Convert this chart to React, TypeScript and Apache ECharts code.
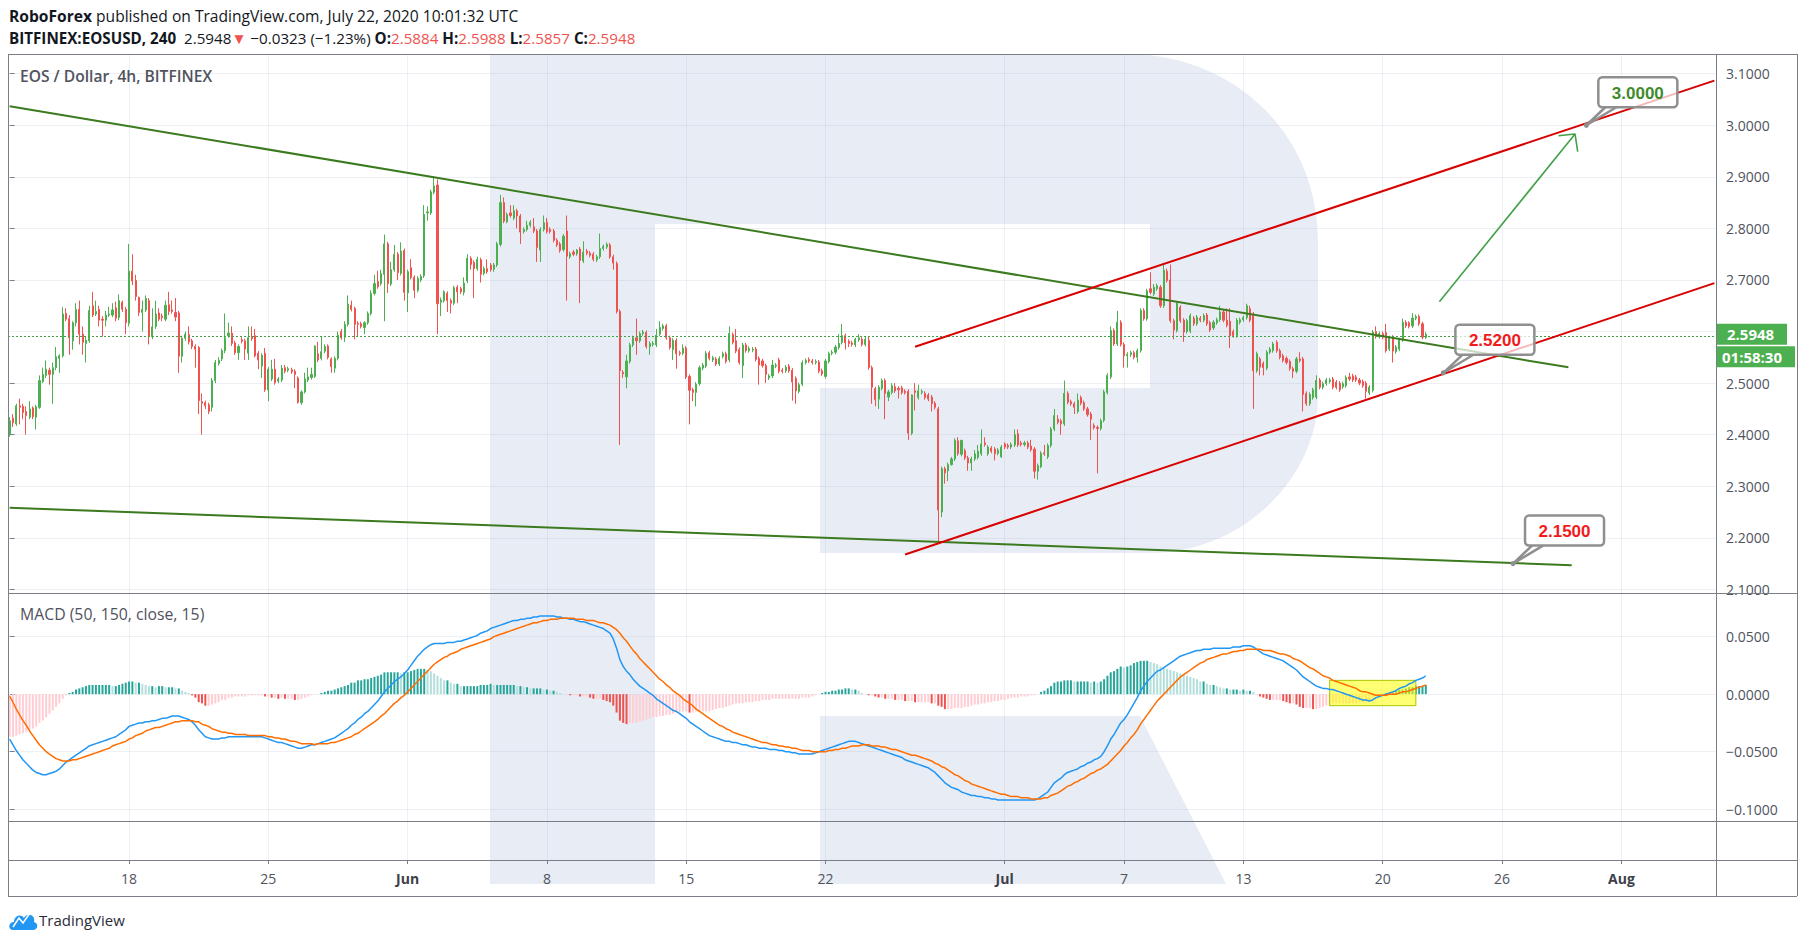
import React, { useEffect, useRef } from "react";
import * as echarts from "echarts";

// ---------------- data ----------------
const firstCandleUTC = Date.UTC(2020, 4, 12, 0, 0); // first 4h slot
const slotCount = 515; // 4h slots shown on the time axis (incl. empty future area)

// [open, close, low, high] per 4h candle
const candles: number[][] = [
  [2.400,2.427,2.396,2.434],[2.432,2.423,2.415,2.440],[2.421,2.456,2.417,2.460],[2.456,2.453,2.420,2.470],
  [2.455,2.443,2.430,2.460],[2.445,2.437,2.400,2.455],[2.434,2.450,2.430,2.465],[2.452,2.435,2.430,2.455],
  [2.434,2.454,2.410,2.458],[2.453,2.505,2.450,2.515],[2.503,2.517,2.500,2.530],[2.515,2.527,2.510,2.544],
  [2.525,2.517,2.497,2.530],[2.517,2.530,2.460,2.540],[2.530,2.551,2.525,2.570],[2.548,2.553,2.520,2.556],
  [2.553,2.634,2.550,2.647],[2.635,2.624,2.620,2.645],[2.625,2.588,2.555,2.632],[2.582,2.617,2.565,2.620],
  [2.617,2.643,2.610,2.655],[2.643,2.595,2.575,2.660],[2.595,2.579,2.555,2.610],[2.577,2.583,2.540,2.590],
  [2.582,2.641,2.578,2.650],[2.650,2.632,2.628,2.677],[2.634,2.639,2.630,2.660],[2.643,2.622,2.610,2.650],
  [2.624,2.622,2.590,2.630],[2.622,2.632,2.610,2.640],[2.632,2.634,2.628,2.648],[2.632,2.642,2.628,2.655],
  [2.646,2.626,2.620,2.658],[2.627,2.660,2.622,2.672],[2.657,2.643,2.638,2.660],[2.643,2.617,2.595,2.648],
  [2.616,2.717,2.610,2.770],[2.717,2.698,2.690,2.750],[2.699,2.668,2.660,2.710],[2.666,2.637,2.630,2.668],
  [2.637,2.643,2.600,2.660],[2.642,2.664,2.638,2.670],[2.660,2.590,2.575,2.665],[2.590,2.609,2.585,2.645],
  [2.610,2.634,2.605,2.660],[2.636,2.624,2.620,2.645],[2.630,2.627,2.620,2.635],[2.624,2.651,2.620,2.660],
  [2.652,2.639,2.632,2.677],[2.642,2.639,2.635,2.660],[2.637,2.628,2.620,2.665],[2.636,2.552,2.520,2.640],
  [2.552,2.587,2.540,2.592],[2.587,2.595,2.582,2.600],[2.594,2.580,2.575,2.610],[2.582,2.571,2.566,2.586],
  [2.571,2.566,2.530,2.575],[2.569,2.466,2.440,2.572],[2.464,2.461,2.400,2.480],[2.462,2.456,2.450,2.466],
  [2.458,2.445,2.440,2.462],[2.453,2.505,2.445,2.510],[2.505,2.540,2.500,2.545],[2.538,2.544,2.534,2.550],
  [2.547,2.563,2.543,2.567],[2.563,2.588,2.558,2.635],[2.592,2.597,2.588,2.617],[2.597,2.577,2.572,2.610],
  [2.578,2.559,2.555,2.582],[2.559,2.571,2.545,2.575],[2.584,2.581,2.577,2.589],[2.582,2.566,2.545,2.586],
  [2.558,2.588,2.545,2.610],[2.590,2.586,2.582,2.610],[2.592,2.553,2.550,2.605],[2.558,2.545,2.527,2.562],
  [2.533,2.554,2.510,2.558],[2.558,2.487,2.483,2.568],[2.487,2.527,2.465,2.531],[2.508,2.527,2.504,2.545],
  [2.527,2.501,2.497,2.547],[2.504,2.508,2.500,2.512],[2.506,2.529,2.502,2.535],[2.530,2.523,2.519,2.535],
  [2.525,2.528,2.521,2.532],[2.526,2.522,2.518,2.530],[2.523,2.517,2.490,2.527],[2.510,2.463,2.460,2.513],
  [2.462,2.483,2.458,2.486],[2.483,2.508,2.480,2.520],[2.506,2.512,2.502,2.530],[2.511,2.517,2.507,2.530],
  [2.513,2.572,2.510,2.573],[2.557,2.545,2.541,2.580],[2.548,2.561,2.544,2.590],[2.562,2.571,2.558,2.575],
  [2.572,2.550,2.546,2.575],[2.547,2.532,2.520,2.550],[2.529,2.548,2.520,2.552],[2.548,2.593,2.544,2.600],
  [2.600,2.588,2.584,2.605],[2.589,2.614,2.580,2.620],[2.614,2.653,2.610,2.670],[2.651,2.643,2.639,2.660],
  [2.645,2.614,2.585,2.648],[2.616,2.614,2.590,2.620],[2.615,2.610,2.606,2.619],[2.608,2.617,2.595,2.620],
  [2.617,2.635,2.613,2.639],[2.635,2.674,2.631,2.680],[2.674,2.693,2.670,2.710],[2.697,2.687,2.683,2.718],
  [2.693,2.712,2.689,2.720],[2.711,2.770,2.620,2.788],[2.770,2.693,2.675,2.774],[2.692,2.720,2.688,2.735],
  [2.720,2.750,2.716,2.768],[2.750,2.714,2.700,2.754],[2.713,2.756,2.709,2.773],[2.757,2.676,2.660,2.761],
  [2.675,2.716,2.638,2.720],[2.724,2.705,2.701,2.740],[2.705,2.680,2.665,2.709],[2.680,2.703,2.676,2.707],
  [2.700,2.707,2.696,2.711],[2.708,2.827,2.704,2.845],[2.830,2.832,2.815,2.843],[2.830,2.871,2.826,2.875],
  [2.870,2.882,2.866,2.900],[2.884,2.654,2.595,2.895],[2.657,2.661,2.630,2.666],[2.660,2.677,2.656,2.680],
  [2.674,2.660,2.638,2.678],[2.660,2.655,2.635,2.664],[2.655,2.685,2.651,2.689],[2.686,2.677,2.655,2.690],
  [2.683,2.677,2.673,2.687],[2.676,2.694,2.670,2.705],[2.698,2.742,2.694,2.750],[2.742,2.730,2.720,2.746],
  [2.734,2.722,2.665,2.738],[2.722,2.740,2.718,2.745],[2.739,2.711,2.695,2.743],[2.713,2.722,2.709,2.726],
  [2.722,2.716,2.712,2.740],[2.729,2.720,2.716,2.733],[2.721,2.729,2.716,2.733],[2.729,2.770,2.725,2.774],
  [2.769,2.850,2.765,2.865],[2.850,2.814,2.810,2.860],[2.813,2.827,2.810,2.831],[2.830,2.825,2.821,2.845],
  [2.820,2.834,2.816,2.845],[2.834,2.824,2.800,2.838],[2.824,2.793,2.770,2.828],[2.794,2.798,2.790,2.802],
  [2.798,2.806,2.794,2.815],[2.806,2.812,2.802,2.816],[2.803,2.795,2.791,2.820],[2.795,2.763,2.735,2.799],
  [2.758,2.798,2.735,2.802],[2.798,2.811,2.794,2.825],[2.812,2.794,2.790,2.820],[2.798,2.794,2.790,2.802],
  [2.795,2.777,2.773,2.799],[2.777,2.768,2.764,2.781],[2.770,2.757,2.753,2.774],[2.759,2.785,2.755,2.789],
  [2.795,2.746,2.660,2.825],[2.745,2.751,2.741,2.755],[2.754,2.750,2.746,2.758],[2.751,2.758,2.747,2.760],
  [2.760,2.738,2.655,2.764],[2.737,2.754,2.733,2.775],[2.756,2.752,2.748,2.760],[2.752,2.748,2.744,2.756],
  [2.750,2.740,2.736,2.754],[2.739,2.745,2.735,2.749],[2.745,2.761,2.741,2.790],[2.761,2.765,2.757,2.769],
  [2.764,2.769,2.760,2.773],[2.768,2.745,2.741,2.772],[2.745,2.733,2.720,2.749],[2.732,2.639,2.635,2.736],
  [2.639,2.524,2.380,2.643],[2.521,2.518,2.510,2.525],[2.512,2.543,2.490,2.555],[2.542,2.574,2.538,2.578],
  [2.574,2.588,2.570,2.592],[2.588,2.582,2.555,2.625],[2.582,2.596,2.578,2.600],[2.596,2.599,2.592,2.603],
  [2.598,2.571,2.567,2.602],[2.571,2.577,2.555,2.581],[2.575,2.577,2.571,2.581],[2.574,2.593,2.570,2.605],
  [2.595,2.608,2.591,2.620],[2.606,2.611,2.602,2.615],[2.611,2.588,2.584,2.615],[2.588,2.569,2.565,2.592],
  [2.565,2.583,2.545,2.587],[2.583,2.557,2.528,2.587],[2.559,2.557,2.553,2.563],[2.558,2.568,2.554,2.575],
  [2.568,2.512,2.508,2.572],[2.513,2.486,2.420,2.517],[2.487,2.482,2.465,2.491],[2.482,2.498,2.455,2.502],
  [2.499,2.530,2.495,2.534],[2.529,2.535,2.525,2.539],[2.533,2.558,2.529,2.562],[2.559,2.548,2.544,2.563],
  [2.545,2.549,2.541,2.553],[2.547,2.537,2.533,2.551],[2.537,2.548,2.533,2.552],[2.552,2.557,2.548,2.561],
  [2.557,2.542,2.538,2.561],[2.545,2.596,2.541,2.610],[2.594,2.579,2.575,2.598],[2.582,2.562,2.558,2.605],
  [2.565,2.540,2.536,2.569],[2.534,2.574,2.510,2.578],[2.574,2.563,2.559,2.578],[2.563,2.567,2.559,2.571],
  [2.564,2.566,2.560,2.570],[2.566,2.546,2.542,2.570],[2.548,2.535,2.497,2.552],[2.543,2.534,2.530,2.547],
  [2.534,2.517,2.500,2.538],[2.510,2.514,2.506,2.518],[2.514,2.535,2.510,2.545],[2.533,2.535,2.529,2.539],
  [2.545,2.523,2.519,2.549],[2.525,2.523,2.519,2.529],[2.524,2.531,2.520,2.535],[2.533,2.524,2.520,2.537],
  [2.525,2.502,2.466,2.529],[2.509,2.485,2.460,2.513],[2.484,2.497,2.480,2.501],[2.498,2.540,2.494,2.544],
  [2.540,2.544,2.536,2.548],[2.546,2.543,2.539,2.550],[2.543,2.540,2.536,2.547],[2.540,2.542,2.536,2.546],
  [2.541,2.523,2.519,2.545],[2.524,2.518,2.514,2.528],[2.513,2.543,2.509,2.547],[2.542,2.557,2.538,2.561],
  [2.558,2.560,2.554,2.564],[2.560,2.570,2.556,2.574],[2.569,2.577,2.565,2.595],[2.579,2.592,2.575,2.615],
  [2.592,2.578,2.565,2.596],[2.581,2.577,2.570,2.585],[2.578,2.575,2.571,2.582],[2.574,2.585,2.570,2.588],
  [2.584,2.588,2.580,2.595],[2.585,2.575,2.571,2.589],[2.575,2.585,2.571,2.590],[2.583,2.530,2.526,2.590],
  [2.530,2.492,2.460,2.534],[2.489,2.468,2.455,2.493],[2.469,2.492,2.450,2.496],[2.490,2.505,2.486,2.509],
  [2.505,2.480,2.430,2.509],[2.473,2.483,2.465,2.487],[2.482,2.495,2.478,2.500],[2.493,2.485,2.481,2.500],
  [2.490,2.487,2.470,2.494],[2.491,2.482,2.478,2.495],[2.484,2.482,2.478,2.488],[2.484,2.403,2.390,2.488],
  [2.403,2.477,2.399,2.478],[2.485,2.482,2.447,2.500],[2.472,2.485,2.468,2.497],[2.482,2.484,2.478,2.488],
  [2.480,2.472,2.468,2.484],[2.477,2.469,2.465,2.481],[2.473,2.460,2.445,2.477],[2.461,2.453,2.449,2.465],
  [2.450,2.254,2.190,2.454],[2.250,2.334,2.240,2.338],[2.334,2.326,2.305,2.338],[2.330,2.342,2.310,2.346],
  [2.342,2.353,2.340,2.357],[2.353,2.389,2.349,2.393],[2.388,2.363,2.359,2.395],[2.362,2.389,2.358,2.390],
  [2.369,2.355,2.351,2.373],[2.355,2.345,2.330,2.359],[2.345,2.353,2.330,2.357],[2.353,2.363,2.349,2.370],
  [2.356,2.368,2.352,2.380],[2.363,2.382,2.359,2.410],[2.384,2.381,2.377,2.395],[2.363,2.376,2.359,2.380],
  [2.374,2.368,2.364,2.378],[2.372,2.363,2.350,2.376],[2.364,2.370,2.360,2.374],[2.357,2.376,2.355,2.380],
  [2.382,2.376,2.372,2.385],[2.379,2.376,2.372,2.383],[2.376,2.381,2.372,2.385],[2.380,2.400,2.376,2.410],
  [2.402,2.380,2.376,2.410],[2.384,2.381,2.377,2.388],[2.381,2.384,2.377,2.388],[2.384,2.376,2.372,2.388],
  [2.378,2.371,2.367,2.390],[2.372,2.329,2.315,2.376],[2.329,2.340,2.313,2.344],[2.338,2.364,2.335,2.368],
  [2.365,2.363,2.359,2.380],[2.357,2.379,2.353,2.383],[2.379,2.411,2.375,2.415],[2.411,2.437,2.407,2.450],
  [2.430,2.424,2.420,2.438],[2.427,2.421,2.400,2.431],[2.421,2.480,2.417,2.505],[2.480,2.463,2.459,2.484],
  [2.464,2.460,2.456,2.468],[2.460,2.453,2.440,2.464],[2.445,2.467,2.441,2.480],[2.472,2.461,2.457,2.476],
  [2.462,2.450,2.446,2.466],[2.450,2.439,2.435,2.454],[2.440,2.430,2.390,2.444],[2.418,2.414,2.410,2.422],
  [2.414,2.412,2.325,2.418],[2.412,2.427,2.408,2.431],[2.428,2.483,2.424,2.487],[2.482,2.515,2.478,2.519],
  [2.512,2.602,2.508,2.610],[2.602,2.576,2.572,2.606],[2.576,2.618,2.572,2.640],[2.618,2.575,2.571,2.622],
  [2.575,2.553,2.530,2.579],[2.553,2.556,2.530,2.560],[2.555,2.559,2.551,2.563],[2.559,2.550,2.546,2.563],
  [2.550,2.563,2.540,2.567],[2.563,2.641,2.559,2.645],[2.641,2.625,2.621,2.645],[2.625,2.679,2.621,2.683],
  [2.683,2.676,2.672,2.715],[2.673,2.686,2.669,2.692],[2.683,2.689,2.679,2.693],[2.686,2.650,2.646,2.690],
  [2.650,2.719,2.646,2.730],[2.717,2.699,2.695,2.722],[2.700,2.621,2.617,2.730],[2.621,2.603,2.585,2.625],
  [2.602,2.655,2.598,2.659],[2.647,2.621,2.617,2.651],[2.622,2.599,2.580,2.626],[2.600,2.621,2.596,2.625],
  [2.601,2.631,2.597,2.635],[2.626,2.615,2.611,2.630],[2.615,2.628,2.611,2.632],[2.626,2.622,2.618,2.630],
  [2.622,2.631,2.618,2.635],[2.632,2.615,2.611,2.636],[2.617,2.603,2.599,2.621],[2.607,2.618,2.603,2.622],
  [2.617,2.623,2.613,2.627],[2.623,2.638,2.619,2.650],[2.638,2.622,2.618,2.642],[2.622,2.612,2.608,2.645],
  [2.620,2.592,2.568,2.645],[2.600,2.592,2.588,2.604],[2.592,2.622,2.588,2.626],[2.618,2.623,2.614,2.627],
  [2.623,2.627,2.619,2.631],[2.627,2.650,2.623,2.654],[2.644,2.622,2.618,2.650],[2.634,2.524,2.450,2.638],
  [2.524,2.557,2.520,2.561],[2.547,2.531,2.515,2.551],[2.538,2.530,2.515,2.542],[2.529,2.560,2.525,2.564],
  [2.560,2.566,2.556,2.570],[2.563,2.576,2.559,2.580],[2.579,2.563,2.559,2.583],[2.563,2.550,2.546,2.567],
  [2.553,2.544,2.540,2.557],[2.548,2.540,2.536,2.552],[2.542,2.528,2.524,2.546],[2.528,2.523,2.510,2.532],
  [2.523,2.547,2.519,2.551],[2.547,2.544,2.540,2.560],[2.547,2.478,2.445,2.551],[2.480,2.460,2.456,2.484],
  [2.460,2.478,2.456,2.482],[2.472,2.487,2.468,2.491],[2.473,2.505,2.469,2.515],[2.506,2.492,2.488,2.510],
  [2.492,2.499,2.488,2.503],[2.499,2.506,2.495,2.510],[2.503,2.506,2.499,2.510],[2.508,2.492,2.488,2.512],
  [2.502,2.492,2.488,2.506],[2.500,2.487,2.483,2.504],[2.493,2.499,2.489,2.503],[2.495,2.511,2.491,2.515],
  [2.512,2.508,2.504,2.520],[2.514,2.506,2.502,2.518],[2.512,2.506,2.502,2.516],[2.506,2.500,2.496,2.510],
  [2.503,2.495,2.491,2.507],[2.500,2.484,2.470,2.504],[2.481,2.492,2.477,2.496],[2.486,2.599,2.482,2.603],
  [2.600,2.590,2.586,2.610],[2.590,2.596,2.586,2.600],[2.596,2.589,2.585,2.600],[2.598,2.563,2.559,2.615],
  [2.566,2.588,2.562,2.592],[2.589,2.562,2.540,2.593],[2.561,2.570,2.557,2.574],[2.566,2.584,2.562,2.588],
  [2.584,2.618,2.580,2.625],[2.618,2.611,2.607,2.622],[2.617,2.610,2.606,2.620],[2.611,2.626,2.607,2.636],
  [2.626,2.629,2.622,2.633],[2.629,2.615,2.611,2.633],[2.615,2.589,2.585,2.619],[2.5884,2.5948,2.5857,2.5988],
];

// MACD (50,150,close,15) lines, in units of 0.001
const macdX1000 = [
  -39,-44,-49,-53,-57,-60,-63,-66,-68,-69,-70,-70,
  -69,-68,-67,-65,-62,-59,-57,-55,-53,-51,-49,-47,
  -45,-44,-43,-42,-41,-40,-39,-38,-37,-35,-33,-31,
  -28,-27,-26,-25,-25,-24,-24,-23,-23,-22,-21,-21,
  -20,-19,-19,-19,-20,-21,-22,-24,-27,-31,-34,-37,
  -38,-39,-39,-39,-38,-38,-37,-37,-37,-37,-37,-37,
  -37,-37,-37,-37,-37,-38,-39,-40,-41,-42,-42,-43,
  -44,-45,-46,-47,-47,-46,-45,-44,-44,-43,-42,-41,
  -40,-39,-38,-36,-34,-32,-30,-27,-25,-22,-20,-17,
  -15,-12,-9,-6,-2,2,5,8,11,13,15,18,
  21,25,29,33,36,39,41,43,44,44,44,44,
  45,45,45,46,46,47,48,49,50,51,53,54,
  55,57,58,59,60,61,62,63,64,64,65,65,
  66,66,67,67,68,68,68,68,68,67,67,66,
  66,65,65,64,63,63,62,61,60,59,58,57,
  55,53,48,40,30,24,20,17,13,10,7,5,
  3,1,-1,-4,-6,-8,-10,-12,-14,-15,-17,-19,
  -21,-24,-26,-28,-30,-32,-34,-36,-37,-38,-39,-40,
  -41,-41,-42,-42,-43,-44,-44,-45,-46,-46,-47,-47,
  -47,-48,-48,-48,-49,-49,-50,-50,-51,-51,-52,-52,
  -52,-52,-52,-51,-50,-49,-48,-47,-46,-45,-44,-43,
  -42,-41,-41,-41,-42,-43,-44,-45,-46,-47,-48,-49,
  -50,-51,-52,-53,-54,-55,-57,-58,-59,-60,-61,-62,
  -63,-64,-66,-68,-71,-74,-77,-79,-81,-82,-83,-85,
  -86,-87,-88,-88,-89,-89,-90,-90,-91,-91,-92,-92,
  -92,-92,-92,-92,-92,-92,-92,-92,-92,-92,-91,-89,
  -87,-85,-81,-77,-75,-73,-70,-68,-67,-66,-65,-63,
  -62,-60,-59,-57,-56,-54,-50,-45,-39,-35,-30,-25,
  -22,-18,-13,-8,-3,3,7,11,14,17,20,21,
  23,25,27,29,31,33,34,35,36,37,38,38,
  39,39,39,40,40,40,40,40,40,41,41,41,
  42,42,42,41,39,37,35,34,33,32,31,30,
  29,27,25,23,21,18,15,13,11,9,7,6,
  5,5,4,4,3,2,1,0,-1,-2,-3,-4,
  -5,-5,-6,-5,-3,-2,-1,0,1,2,3,5,
  6,7,9,10,12,13,14,16,
];
const signalX1000 = [
  -2,-7,-13,-18,-23,-27,-32,-36,-40,-44,-47,-50,
  -52,-54,-56,-57,-58,-58,-58,-57,-57,-56,-55,-54,
  -53,-52,-51,-50,-49,-48,-47,-45,-44,-43,-42,-41,
  -39,-38,-36,-35,-34,-32,-31,-30,-29,-29,-28,-27,
  -26,-25,-24,-24,-23,-23,-23,-23,-24,-24,-26,-27,
  -28,-30,-31,-32,-33,-33,-34,-34,-35,-35,-35,-35,
  -36,-36,-36,-36,-36,-36,-37,-37,-38,-38,-39,-39,
  -40,-41,-41,-42,-43,-43,-43,-43,-44,-43,-43,-43,
  -43,-42,-42,-41,-40,-39,-38,-37,-35,-34,-32,-30,
  -28,-26,-24,-22,-19,-17,-14,-11,-8,-6,-3,-1,
  2,5,8,11,14,17,20,23,26,28,30,32,
  33,35,36,37,39,40,41,42,43,44,45,46,
  47,48,50,51,52,53,54,55,56,57,58,59,
  60,61,62,62,63,64,64,65,65,65,66,66,
  66,66,66,65,65,65,64,64,64,63,62,62,
  61,60,58,56,53,49,46,42,38,35,31,28,
  25,22,19,16,13,11,8,6,3,1,-1,-4,
  -6,-8,-10,-13,-15,-17,-19,-21,-23,-25,-27,-28,
  -30,-31,-33,-34,-35,-36,-37,-38,-39,-40,-41,-42,
  -42,-43,-44,-44,-45,-45,-46,-46,-47,-47,-48,-49,
  -49,-49,-50,-50,-50,-50,-50,-49,-49,-48,-48,-47,
  -47,-46,-45,-45,-45,-44,-44,-44,-45,-45,-45,-46,
  -46,-47,-48,-48,-49,-50,-51,-52,-53,-53,-54,-55,
  -56,-57,-58,-60,-61,-63,-64,-66,-68,-70,-71,-73,
  -75,-76,-78,-79,-80,-81,-82,-83,-84,-85,-86,-87,
  -87,-88,-89,-89,-89,-90,-90,-90,-91,-91,-91,-91,
  -90,-90,-88,-87,-86,-84,-82,-80,-79,-77,-76,-74,
  -73,-71,-69,-68,-66,-65,-63,-61,-58,-55,-52,-49,
  -45,-42,-38,-35,-31,-26,-22,-18,-14,-10,-6,-3,
  0,3,6,9,12,15,17,19,21,23,25,27,
  28,30,31,32,33,34,35,35,36,37,37,38,
  38,39,39,39,39,39,38,38,38,37,36,35,
  35,34,33,31,30,29,27,25,23,22,20,18,
  16,15,14,12,11,10,9,8,7,6,5,3,
  2,2,1,0,-1,-1,-1,-1,0,0,0,1,
  2,2,3,4,5,6,7,8,
];

const priceGridTicks = [2.1, 2.2, 2.3, 2.4, 2.5, 2.6, 2.7, 2.8, 2.9, 3.0, 3.1];
const priceLabelTicks = [2.1, 2.2, 2.3, 2.4, 2.5, 2.7, 2.8, 2.9, 3.0, 3.1];
const macdTicks = [-0.1, -0.05, 0, 0.05];
const dateTickDays = ["2020-05-18","2020-05-25","2020-06-01","2020-06-08","2020-06-15","2020-06-22","2020-07-01","2020-07-07","2020-07-13","2020-07-20","2020-07-26","2020-08-01"];
const dateTickLabels = ["18","25","Jun","8","15","22","Jul","7","13","20","26","Aug"];
const monthLabels = ["Jun","Jul","Aug"];

const lastPrice = 2.5948;
const changeText = "\u22120.0323 (\u22121.23%)";
const countdownText = "01:58:30";

// drawings: [slot index, price]
const greenUpperLine = [[0, 3.037], [470, 2.5306]];
const greenLowerLine = [[0, 2.2584], [471, 2.1469]];
const redLowerLine = [[270, 2.1676], [514, 2.6939]];
const redUpperLine = [[273, 2.5705], [514, 3.0865]];
const arrowShaft = [[431.1, 2.658], [472.0, 2.983]];
const arrowHead = [[467.0, 2.9797], [472.0, 2.983], [472.8, 2.9487]];
const callouts = [
  { slot: 475.4, price: 3.0, color: "#3f8b2c" },
  { slot: 432.3, price: 2.52, color: "#f21b1b" },
  { slot: 453.3, price: 2.15, color: "#f21b1b" },
];
const macdHighlight = [[398, 0.012], [424, -0.010]];

// ---------------- helpers ----------------
const FONT = '"Open Sans", "Noto Sans", sans-serif';
const SLOT_MS = 4 * 3600 * 1000;
const categories = Array.from({ length: slotCount }, (_, i) =>
  new Date(firstCandleUTC + i * SLOT_MS).toISOString().slice(0, 16)
);
const tickIdx = dateTickDays.map((d) => Math.round((Date.parse(d + "T00:00:00Z") - firstCandleUTC) / SLOT_MS));
const tickSet = new Set(tickIdx);
const tickLabelMap = new Map(tickIdx.map((ix, k) => [ix, dateTickLabels[k]]));

const GRID_COLOR = "rgba(120,140,180,0.13)";
const BORDER = "#7b7e87";

const watermarkD =
  "M490 54 L1128 54 C1230 54 1318 130 1318 242 L1318 395 C1318 480 1240 553 1151 553 L820 553 L820 388 L1150 388 L1150 224 L655 224 L655 884 L490 884 Z " +
  "M820 716 L1140 716 L1226 884 L820 884 Z";
const tvLogoD = "M4 23 C-1 23 -1 15 5 15 C5 9 12 6 15 11 C18 5 27 8 25 15 C30 16 29 23 24 23 Z";

let registered = false;
function registerShapes() {
  if (registered) return;
  registered = true;
  echarts.graphic.registerShape("rfWatermark", echarts.graphic.extendPath(watermarkD, {}));
  echarts.graphic.registerShape("tvLogo", echarts.graphic.extendPath(tvLogoD, {}));
}

function fmtSigned(v: number) {
  const s = Math.abs(v).toFixed(4);
  return v < -1e-9 ? "\u2212" + s : s;
}

export default function App() {
  const ref = useRef<HTMLDivElement>(null);

  useEffect(() => {
    document.body.style.margin = "0";
    document.body.style.overflow = "hidden";
    registerShapes();
    const chart = echarts.init(ref.current!, undefined, { renderer: "svg" });

    const hist = macdX1000.map((m, i) => (m - signalX1000[i]) / 1000);
    const histData = hist.map((h, i) => {
      const prev = i > 0 ? hist[i - 1] : h;
      let color;
      if (h >= 0) color = h >= prev ? "#26a69a" : "#b2dfdb";
      else color = h < prev ? "#ef5350" : "#ffcdd2";
      return { value: h, itemStyle: { color } };
    });

    const lineSeries = (data: number[][], color: string, width: number, z = 6) => ({
      type: "line",
      xAxisIndex: 3,
      yAxisIndex: 0,
      data,
      symbol: "none",
      silent: true,
      lineStyle: { color, width },
      z,
    });

    const vLines = tickIdx.map((i) => ({ xAxis: i }));
    const gridMark = (extra: any[]) => ({
      silent: true,
      symbol: ["none", "none"],
      label: { show: false },
      z: 1,
      lineStyle: { color: GRID_COLOR, width: 1, type: "solid" },
      emphasis: { disabled: true },
      data: [...extra, ...vLines],
    });

    const option: any = {
      animation: false,
      backgroundColor: "#ffffff",
      textStyle: { fontFamily: FONT },
      grid: [
        { left: 8, top: 54, width: 1708, height: 539 },
        { left: 8, top: 593, width: 1708, height: 228 },
        { left: 8, top: 821, width: 1708, height: 39 },
      ],
      xAxis: [
        { type: "category", gridIndex: 0, data: categories, show: false, boundaryGap: true },
        { type: "category", gridIndex: 1, data: categories, show: false, boundaryGap: true },
        {
          type: "category",
          gridIndex: 2,
          data: categories,
          position: "bottom",
          boundaryGap: true,
          axisLine: { show: false },
          splitLine: { show: false },
          axisTick: {
            show: true,
            alignWithLabel: true,
            interval: (i: number) => tickSet.has(i),
            length: 4,
            lineStyle: { color: BORDER },
          },
          axisLabel: {
            interval: (i: number) => tickSet.has(i),
            margin: 11,
            color: "#50535e",
            fontSize: 14,
            fontFamily: FONT,
            formatter: (_v: string, i: number) => {
              const lab = tickLabelMap.get(i) || "";
              return monthLabels.includes(lab) ? "{b|" + lab + "}" : lab;
            },
            rich: { b: { fontWeight: "bold", color: "#3d4049", fontSize: 14, fontFamily: FONT } },
          },
        },
        { type: "value", gridIndex: 0, min: -0.5, max: slotCount - 0.5, show: false },
        { type: "value", gridIndex: 1, min: -0.5, max: slotCount - 0.5, show: false },
        { type: "value", gridIndex: 2, min: -0.5, max: slotCount - 0.5, show: false },
      ],
      yAxis: [
        {
          type: "value",
          gridIndex: 0,
          position: "right",
          min: 2.093,
          max: 3.1382,
          axisLine: { show: false },
          splitLine: { show: false },
          axisTick: { show: true, customValues: priceLabelTicks, length: 5, lineStyle: { color: BORDER } },
          axisLabel: {
            customValues: priceLabelTicks,
            formatter: (v: number) => v.toFixed(4),
            color: "#50535e",
            fontSize: 14,
            fontFamily: FONT,
            margin: 10,
          },
        },
        {
          type: "value",
          gridIndex: 1,
          position: "right",
          min: -0.1102,
          max: 0.0879,
          axisLine: { show: false },
          splitLine: { show: false },
          axisTick: { show: true, customValues: macdTicks, length: 5, lineStyle: { color: BORDER } },
          axisLabel: {
            customValues: macdTicks,
            formatter: (v: number) => fmtSigned(v),
            color: "#50535e",
            fontSize: 14,
            fontFamily: FONT,
            margin: 10,
          },
        },
        { type: "value", gridIndex: 2, min: 0, max: 1, show: false },
      ],
      series: [
        {
          type: "line",
          xAxisIndex: 3,
          yAxisIndex: 0,
          data: [],
          z: 1,
          markLine: gridMark(priceGridTicks.map((v) => ({ yAxis: v }))),
        },
        {
          type: "candlestick",
          xAxisIndex: 0,
          yAxisIndex: 0,
          data: candles,
          barWidth: 1.6,
          z: 3,
          silent: true,
          itemStyle: {
            color: "#4caf50",
            color0: "#ef5350",
            borderColor: "#4caf50",
            borderColor0: "#ef5350",
            borderWidth: 1,
          },
          markLine: {
            silent: true,
            symbol: ["none", "none"],
            label: { show: false },
            z: 4,
            lineStyle: { color: "#43a047", width: 1, type: [2, 2] },
            data: [{ yAxis: lastPrice }],
          },
        },
        lineSeries(greenUpperLine, "#3b7a1e", 2),
        lineSeries(greenLowerLine, "#3b7a1e", 2),
        lineSeries(redLowerLine, "#d90000", 2),
        lineSeries(redUpperLine, "#d90000", 2),
        lineSeries(arrowShaft, "#43a047", 1.6),
        lineSeries(arrowHead, "#43a047", 1.6),
        {
          type: "line",
          xAxisIndex: 4,
          yAxisIndex: 1,
          data: [],
          z: 1,
          markLine: gridMark(macdTicks.map((v) => ({ yAxis: v }))),
        },
        {
          type: "bar",
          xAxisIndex: 1,
          yAxisIndex: 1,
          data: histData,
          barWidth: 2,
          silent: true,
          z: 2,
        },
        {
          type: "line",
          xAxisIndex: 1,
          yAxisIndex: 1,
          data: macdX1000.map((v) => v / 1000),
          symbol: "none",
          silent: true,
          lineStyle: { color: "#2196f3", width: 1.5 },
          z: 5,
        },
        {
          type: "line",
          xAxisIndex: 1,
          yAxisIndex: 1,
          data: signalX1000.map((v) => v / 1000),
          symbol: "none",
          silent: true,
          lineStyle: { color: "#ff6d00", width: 1.5 },
          z: 5,
          markArea: {
            silent: true,
            z: 3,
            itemStyle: { color: "rgba(255,255,0,0.55)", borderColor: "#a8c800", borderWidth: 1 },
            data: [[{ coord: macdHighlight[0] }, { coord: macdHighlight[1] }]],
          },
        },
        {
          type: "line",
          xAxisIndex: 5,
          yAxisIndex: 2,
          data: [],
          z: 1,
          markLine: gridMark([]),
        },
      ],
    };

    chart.setOption(option);

    // ---- overlay graphics positioned through the chart's scales ----
    const toPx = (slot: number, price: number) =>
      chart.convertToPixel({ xAxisIndex: 3, yAxisIndex: 0 }, [slot, price]) as number[];
    const els: any[] = [];

    els.push({ type: "rfWatermark", x: 0, y: 0, z: -10, silent: true, style: { fill: "#e8edf5" } });

    const hl = (y: number) => ({ type: "line", z: 40, silent: true, shape: { x1: 8, y1: y, x2: 1797, y2: y }, style: { stroke: BORDER, lineWidth: 1 } });
    const vl = (x: number) => ({ type: "line", z: 40, silent: true, shape: { x1: x, y1: 54, x2: x, y2: 896 }, style: { stroke: BORDER, lineWidth: 1 } });
    els.push(hl(54.5), hl(593.5), hl(821.5), hl(860.5), hl(896.5), vl(8.5), vl(1716.5), vl(1797.5));

    const txt = (x: number, y: number, text: string, font: string, fill: string, rich?: any, z = 50) => ({
      type: "text",
      x,
      y,
      z,
      silent: true,
      style: {
        text,
        font,
        fill,
        rich,
        align: "left",
        verticalAlign: "middle",
        textAlign: "left",
        textVerticalAlign: "middle",
      },
    });
    const last = candles[candles.length - 1];
    const boldRich = (size: number) => ({
      b: { fontWeight: "bold", fontSize: size, fontFamily: FONT, fill: "#131722" },
      r: { fontSize: size, fontFamily: FONT, fill: "#ef5350" },
      n: { fontSize: size, fontFamily: FONT, fill: "#131722" },
    });
    els.push(
      txt(9, 16, "{b|RoboForex}{n| published on TradingView.com, July 22, 2020 10:01:32 UTC}", "15.6px " + FONT, "#131722", boldRich(15.6))
    );
    els.push(
      txt(
        9,
        38,
        "{b|BITFINEX:EOSUSD, 240}{n|  " + last[1].toFixed(4) + "}{r|\u25BC}{n| " + changeText + " }" +
          "{b|O:}{r|" + last[0].toFixed(4) + "}{n| }{b|H:}{r|" + last[3].toFixed(4) + "}{n| }" +
          "{b|L:}{r|" + last[2].toFixed(4) + "}{n| }{b|C:}{r|" + last[1].toFixed(4) + "}",
        "15.2px " + FONT,
        "#131722",
        boldRich(15.2)
      )
    );
    els.push(txt(20, 76, "EOS / Dollar, 4h, BITFINEX", "600 15.6px " + FONT, "#50535e"));
    els.push(txt(20, 614, "MACD (50, 150, close, 15)", "15.8px " + FONT, "#50535e"));

    // last price badge on price axis
    const py = chart.convertToPixel({ yAxisIndex: 0 }, lastPrice) as number;
    els.push({ type: "rect", z: 45, silent: true, shape: { x: 1717, y: py - 10.5, width: 70, height: 21 }, style: { fill: "#4caf50" } });
    els.push(txt(1727, py, lastPrice.toFixed(4), "bold 15px " + FONT, "#ffffff", undefined, 46));
    els.push({ type: "rect", z: 45, silent: true, shape: { x: 1717, y: py + 12, width: 78, height: 21 }, style: { fill: "#4caf50" } });
    els.push(txt(1722, py + 22.5, countdownText, "bold 15px " + FONT, "#ffffff", undefined, 46));

    // callouts
    callouts.forEach((c) => {
      const [ax, ay] = toPx(c.slot, c.price);
      const bx = ax + 12;
      const by = ay - 48;
      const bw = 79;
      const bh = 30;
      els.push({
        type: "polyline",
        z: 30,
        silent: true,
        shape: { points: [[bx + 7, by + bh], [ax, ay], [bx + 18, by + bh]] },
        style: { stroke: "#8f8f8f", lineWidth: 2.5, fill: "none" },
      });
      els.push({
        type: "rect",
        z: 31,
        silent: true,
        shape: { x: bx, y: by, width: bw, height: bh, r: 4 },
        style: { fill: "rgba(255,255,255,0.72)", stroke: "#8f8f8f", lineWidth: 2.5 },
      });
      els.push({
        type: "text",
        z: 32,
        silent: true,
        x: bx + bw / 2,
        y: by + bh / 2 + 1,
        style: {
          text: c.price.toFixed(4),
          font: 'bold 17px "Liberation Sans", Arial, sans-serif',
          fill: c.color,
          align: "center",
          verticalAlign: "middle",
          textAlign: "center",
          textVerticalAlign: "middle",
        },
      });
      els.push({ type: "circle", z: 33, silent: true, shape: { cx: ax, cy: ay, r: 2.6 }, style: { fill: "#8f8f8f" } });
    });

    // TradingView footer logo
    els.push({ type: "tvLogo", x: 9, y: 907, z: 50, silent: true, style: { fill: "#2196f3" } });
    els.push({
      type: "polyline",
      z: 51,
      silent: true,
      shape: { points: [[13, 927], [19, 918], [23, 923], [30, 913]] },
      style: { stroke: "#ffffff", lineWidth: 1.6, fill: "none" },
    });
    els.push(txt(39, 920, "TradingView", "15px " + FONT, "#2a2e39"));

    chart.setOption({ graphic: { elements: els } });

    return () => {
      chart.dispose();
    };
  }, []);

  return (
    <div
      ref={ref}
      style={{ position: "absolute", left: 0, top: 0, width: 1805, height: 943, background: "#ffffff" }}
    />
  );
}
